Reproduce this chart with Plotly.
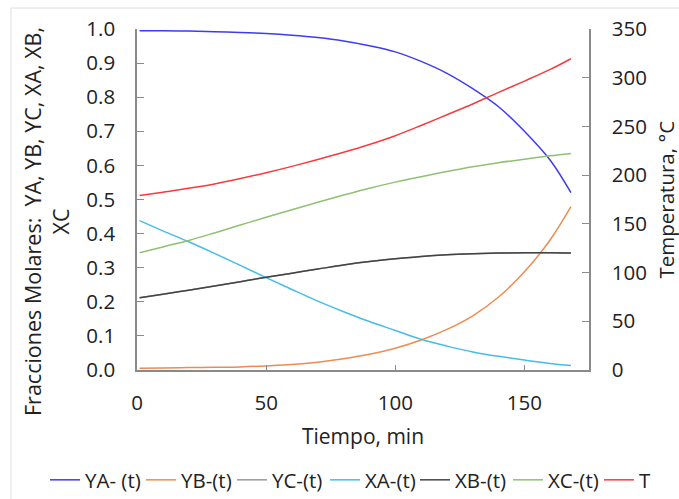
import plotly.graph_objects as go

tiempo = [1, 10, 20, 30, 40, 50, 60, 70, 80, 90, 100, 110, 120, 130, 140, 150, 160, 168]
YA = [0.995, 0.995, 0.994, 0.992, 0.990, 0.987, 0.982, 0.975, 0.965, 0.951, 0.933, 0.905, 0.870, 0.825, 0.772, 0.700, 0.615, 0.520]
YB = [0.005, 0.006, 0.007, 0.008, 0.009, 0.012, 0.016, 0.023, 0.033, 0.046, 0.064, 0.088, 0.119, 0.159, 0.214, 0.288, 0.382, 0.479]
XB = [0.212, 0.222, 0.234, 0.246, 0.259, 0.272, 0.284, 0.296, 0.308, 0.318, 0.326, 0.333, 0.338, 0.341, 0.343, 0.344, 0.344, 0.343]
YC = [0.212, 0.222, 0.234, 0.246, 0.259, 0.272, 0.284, 0.296, 0.308, 0.318, 0.326, 0.333, 0.338, 0.341, 0.343, 0.344, 0.344, 0.343]
XA = [0.438, 0.408, 0.376, 0.342, 0.307, 0.271, 0.236, 0.202, 0.171, 0.142, 0.116, 0.090, 0.070, 0.053, 0.040, 0.029, 0.019, 0.013]
XC = [0.344, 0.361, 0.380, 0.402, 0.425, 0.448, 0.470, 0.492, 0.513, 0.533, 0.551, 0.567, 0.582, 0.596, 0.608, 0.618, 0.628, 0.635]
T = [179, 182.5, 186.5, 191, 196.5, 202.5, 209, 216, 223.5, 231.5, 240.5, 251, 262, 273, 285, 296.5, 308.5, 319.5]

series = [
    ("YA- (t)", YA, "#3c3cf0", "y"),
    ("YB-(t)", YB, "#ed8c52", "y"),
    ("YC-(t)", YC, "#9a9a9a", "y"),
    ("XA-(t)", XA, "#45bde8", "y"),
    ("XB-(t)", XB, "#444444", "y"),
    ("XC-(t)", XC, "#8fc173", "y"),
    ("T", T, "#f53c3c", "y2"),
]
# left edge (px) of each legend entry text, as in the reference
legend_text_x = [80, 176, 267, 360, 450, 543, 634]

FONT = "Open Sans"
FS = 20.5
fig = go.Figure()
legends = {}
for i, (name, vals, color, ax) in enumerate(series):
    key = "legend" if i == 0 else f"legend{i + 1}"
    fig.add_trace(go.Scatter(x=tiempo, y=vals, name=name, mode="lines",
                             line=dict(color=color, width=1.5, shape="spline"),
                             yaxis=ax, legend=key))
    legends[key] = dict(orientation="h", xref="container", xanchor="left",
                        x=(legend_text_x[i] - 35) / 679,
                        yref="container", y=1 - 480 / 499, yanchor="middle",
                        font=dict(size=20.5), itemwidth=30,
                        bgcolor="rgba(0,0,0,0)")

axcol = "#8a8a8a"
fig.update_layout(
    width=679, height=499,
    margin=dict(l=137, r=90, t=29, b=129),
    paper_bgcolor="white", plot_bgcolor="white",
    font=dict(family=FONT, size=FS, color="#222222"),
    showlegend=True,
    xaxis=dict(range=[0, 175], tickvals=[0, 50, 100, 150], showgrid=False,
               zeroline=False, showline=True, linecolor=axcol, linewidth=1.5,
               ticks="inside", ticklen=5, tickcolor=axcol, ticklabelstandoff=14,
               title=dict(text="Tiempo, min", font=dict(size=21), standoff=14)),
    yaxis=dict(range=[0, 1], dtick=0.1, tickformat=".1f", showgrid=False,
               zeroline=False, showline=True, linecolor=axcol, linewidth=1.5,
               ticks="inside", ticklen=7, tickcolor=axcol, ticklabelstandoff=16),
    yaxis2=dict(range=[0, 350], dtick=50, overlaying="y", side="right", anchor="x",
                showgrid=False, zeroline=False, showline=True, linecolor=axcol,
                linewidth=1.5, ticks="inside", ticklen=7, tickcolor=axcol,
                ticklabelstandoff=17),
    **legends,
)

fig.add_annotation(text="Fracciones Molares:&nbsp; YA, YB, YC, XA, XB,<br>XC",
                   xref="paper", yref="paper", x=(47 - 137) / 452, y=(370 - 222) / 341,
                   xanchor="center", yanchor="middle", textangle=-90,
                   showarrow=False, font=dict(size=21.5))
fig.add_annotation(text="Temperatura, °C",
                   xref="paper", yref="paper", x=(665 - 137) / 452, y=0.5,
                   xanchor="center", yanchor="middle", textangle=-90,
                   showarrow=False, font=dict(size=FS))

fig.add_shape(type="rect", xref="paper", yref="paper",
              x0=(11 - 137) / 452, x1=(720 - 137) / 452,
              y0=(370 - 8) / 341, y1=(370 - 540) / 341,
              line=dict(color="#dedede", width=1), layer="below")

fig.write_html("out.html")
